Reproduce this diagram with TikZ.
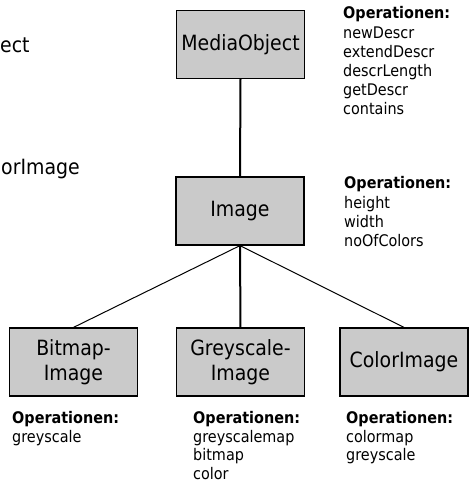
\documentclass[tikz,border=0pt]{standalone}
\usepackage{fontspec}
\setmainfont{DejaVu Sans}[FakeStretch=0.9]
\begin{document}
\begin{tikzpicture}[x=1pt,y=-1pt,
  cls/.style={draw=black,line width=1.2pt,fill={rgb,255:red,202;green,202;blue,202},
    minimum width=128pt,minimum height=68pt,inner sep=0pt,align=center,
    font=\fontsize{21}{25}\selectfont},
  ops/.style={anchor=north west,inner sep=0pt,align=left,
    font=\fontsize{16}{19.2}\selectfont},
  opsb/.style={ops,font=\fontsize{16}{18.5}\selectfont},
  frag/.style={anchor=base west,inner sep=0pt,font=\fontsize{21}{25}\selectfont},
  thickline/.style={line width=2pt},
  thinline/.style={line width=1pt}]
\useasboundingbox (0,0) rectangle (469,483);
\node[frag] (f1) at (0,52) {ect};
\node[frag] (f2) at (1,174) {orImage};
\node[cls] (mo) at (240.5,44.5) {MediaObject};
\node[cls] (img) at (240,211) {Image};
\node[cls] (bmp) at (73.5,362) {Bitmap-\\Image};
\node[cls] (gry) at (240.5,362) {Greyscale-\\Image};
\node[cls] (col) at (404,362) {ColorImage};
\draw[thickline] (mo.south) -- (img.north);
\draw[thickline] (img.south) -- (gry.north);
\draw[thinline] (img.south) -- (bmp.north);
\draw[thinline] (img.south) -- (col.north);
\node[ops] (o1) at (343,6.5) {\textbf{Operationen:}\\newDescr\\extendDescr\\descrLength\\getDescr\\contains};
\node[ops] (o2) at (344,176.5) {\textbf{Operationen:}\\height\\width\\noOfColors};
\node[opsb] (o3) at (12,411.5) {\textbf{Operationen:}\\greyscale};
\node[opsb] (o4) at (193,411.5) {\textbf{Operationen:}\\greyscalemap\\bitmap\\color};
\node[opsb] (o5) at (346,411.5) {\textbf{Operationen:}\\colormap\\greyscale};
\end{tikzpicture}
\end{document}
